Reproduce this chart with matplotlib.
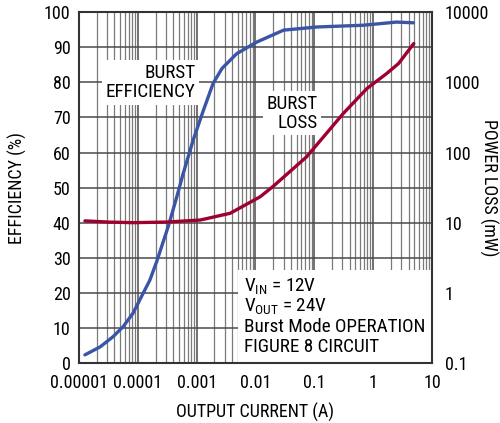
import matplotlib
matplotlib.use('Agg')
import matplotlib.pyplot as plt
from matplotlib.ticker import FixedLocator, NullFormatter, LogLocator
from matplotlib.patches import Rectangle

plt.rcParams['font.family'] = ['Roboto Condensed', 'DejaVu Sans']
plt.rcParams['mathtext.fontset'] = 'custom'
plt.rcParams['mathtext.rm'] = 'Roboto Condensed'

# burst efficiency (%) vs output current (A)
eff_i = [1.26e-5, 2.3e-5, 3.8e-5, 5.6e-5, 8.3e-5, 1.15e-4, 1.6e-4, 2.1e-4,
         3.3e-4, 4.6e-4, 5.9e-4, 8.7e-4, 1.3e-3, 1.9e-3, 2.7e-3, 4.8e-3,
         0.0105, 0.03, 0.11, 0.68, 2.5, 4.8]
eff = [2.3, 4.6, 7.5, 10.3, 14.2, 18.9, 23.6, 29,
       39, 47.4, 54, 63.5, 72, 79.7, 84, 88.2,
       91.5, 94.9, 95.8, 96.3, 97.2, 97.0]

# burst power loss (mW) vs output current (A)
loss_i = [1.26e-5, 3.16e-5, 8.3e-5, 3.1e-4, 1.15e-3, 3.7e-3, 0.012, 0.02,
          0.074, 0.31, 0.78, 1.7, 2.7, 4.9]
loss = [10.6, 10.2, 10.0, 10.2, 10.9, 13.6, 23.4, 33,
        87, 360, 815, 1340, 1860, 3580]

xticks = [1e-5, 1e-4, 1e-3, 1e-2, 1e-1, 1, 10]
xlabels = ['0.00001', '0.0001', '0.001', '0.01', '0.1', '1', '10']
rticks = [0.1, 1, 10, 100, 1000, 10000]
rlabels = ['0.1', '1', '10', '100', '1000', '10000']

fig = plt.figure(figsize=(5.0, 4.23), dpi=100)
ax = fig.add_axes([0.158, 0.142, 0.706, 0.829])
ax.set_xscale('log')
ax.set_xlim(1e-5, 10)
ax.set_ylim(0, 100)
ax.set_yticks(range(0, 101, 10))
ax.xaxis.set_major_locator(FixedLocator(xticks))
ax.set_xticklabels(xlabels)
ax.xaxis.set_minor_locator(LogLocator(base=10, subs=range(2, 10), numticks=100))
ax.xaxis.set_minor_formatter(NullFormatter())

ax.grid(True, which='major', axis='both', color='#4a4a4a', lw=1.1, zorder=0)
ax.grid(True, which='minor', axis='x', color='#7a7a7a', lw=0.9, zorder=0)
ax.set_axisbelow(True)

ax.tick_params(which='both', direction='in', length=3, color='#777777',
               labelsize=13, pad=8)
ax.tick_params(axis='y', length=0, pad=6)
for s in ax.spines.values():
    s.set_linewidth(1.5)
    s.set_color('#333333')

ax.set_xlabel('OUTPUT CURRENT (A)', fontsize=13, labelpad=8)
ax.set_ylabel('EFFICIENCY (%)', fontsize=13, labelpad=12)

ax2 = ax.twinx()
ax2.set_yscale('log')
ax2.set_ylim(0.1, 10000)
ax2.yaxis.set_major_locator(FixedLocator(rticks))
ax2.set_yticklabels(rlabels)
ax2.yaxis.set_minor_formatter(NullFormatter())
ax2.tick_params(which='both', length=0, labelsize=13, pad=9)
ax2.set_ylabel('POWER LOSS (mW)', fontsize=13, rotation=270, ha='center', va='center')
ax2.yaxis.set_label_coords(1.159, 0.5)
for s in ax2.spines.values():
    s.set_visible(False)

# condition box in lower right
ax.add_patch(Rectangle((0.450, 0.0), 0.55, 0.265, transform=ax.transAxes,
                       facecolor='white', edgecolor='none', zorder=1))

ax.plot(eff_i, eff, color='#3a55a6', lw=2.4, zorder=3, solid_capstyle='round')
ax2.plot(loss_i, loss, color='#a00030', lw=2.4, zorder=3, solid_capstyle='round')

box = dict(facecolor='white', edgecolor='none', pad=2.5)
ax.text(0.329, 0.80, 'BURST\nEFFICIENCY', transform=ax.transAxes, ha='right',
        va='center', fontsize=13.8, linespacing=1.1, bbox=box, zorder=2)
ax.text(0.677, 0.712, 'BURST\nLOSS', transform=ax.transAxes, ha='right',
        va='center', fontsize=13.8, linespacing=1.1, bbox=box, zorder=2)

cond = [r'V$_{\mathregular{IN}}$ = 12V', r'V$_{\mathregular{OUT}}$ = 24V',
        'Burst Mode OPERATION', 'FIGURE 8 CIRCUIT']
for k, line in enumerate(cond):
    ax.text(0.467, 0.204 - k * 0.058, line, transform=ax.transAxes, ha='left',
            va='baseline', fontsize=13.8, zorder=4)

fig.savefig('out.png', dpi=100)
